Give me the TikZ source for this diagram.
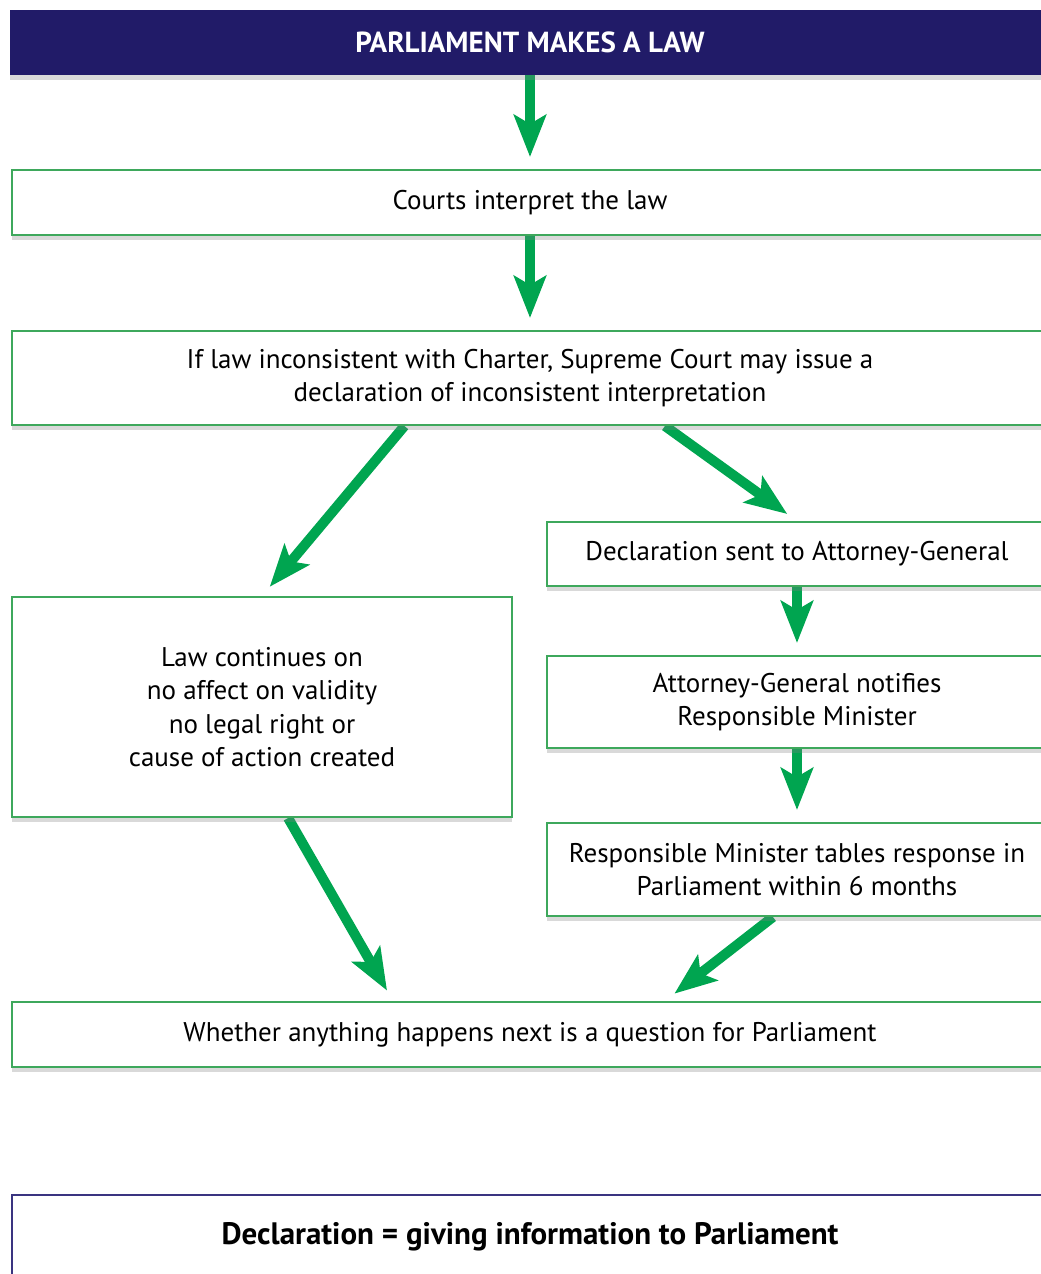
\documentclass[tikz,border=0pt]{standalone}
\usepackage{fontspec}
\setmainfont{PT Sans}
\usetikzlibrary{arrows.meta,calc,shadows,backgrounds}
\definecolor{navy}{RGB}{33,27,104}
\definecolor{notenavy}{RGB}{58,52,128}
\definecolor{flowgreen}{RGB}{0,165,80}
\definecolor{boxgreen}{RGB}{62,168,92}
\tikzset{
	chart/.style={x=1pt,y=-1pt,font=\fontsize{27}{33.5}\selectfont},
	shade below/.style={drop shadow={shadow xshift=0pt,shadow yshift=-5pt,opacity=0.3,fill=black!50}},
	titlebox/.style={rectangle,fill=navy,text=white,inner sep=0pt,
		minimum width=1040pt,minimum height=65pt,shade below,
		font=\fontsize{29}{30}\selectfont\bfseries},
	stepbox/.style={rectangle,draw=boxgreen,line width=2pt,fill=white,align=center,
		inner sep=0pt,shade below},
	wide/.style={minimum width=1036pt},
	half/.style={minimum width=500pt},
	notebox/.style={rectangle,draw=notenavy,line width=2.5pt,fill=white,inner sep=0pt,
		minimum width=1036pt,minimum height=84pt,font=\fontsize{31}{34}\selectfont\bfseries},
	flow/.style={-{Stealth[length=42pt,width=32pt,inset=9pt]},draw=flowgreen,
		line width=10pt,shorten >=12pt}
}

\begin{document}
\begin{tikzpicture}[chart]
	\useasboundingbox (0,0) rectangle (1041,1274);
	\clip (0,0) rectangle (1041,1274);
	
	\node[titlebox] (title) at (530,42) {PARLIAMENT MAKES A LAW};
	\node[stepbox,wide,minimum height=65pt] (courts) at (530,202.5) {Courts interpret the law};
	\node[stepbox,wide,minimum height=94pt] (charter) at (530,378)
		{If law inconsistent with Charter, Supreme Court may issue a\\declaration of inconsistent interpretation};
	\node[stepbox,half,minimum height=220pt] (effect) at (262,707)
		{Law continues on\\no affect on validity\\no legal right or\\cause of action created};
	\node[stepbox,half,minimum height=64pt] (sent) at (797,554) {Declaration sent to Attorney-General};
	\node[stepbox,half,minimum height=92pt] (notify) at (797,702)
		{Attorney-General notifies\\Responsible Minister};
	\node[stepbox,half,minimum height=93pt] (tables) at (797,869.5)
		{Responsible Minister tables response in\\Parliament within 6 months};
	\node[stepbox,wide,minimum height=65pt] (next) at (530,1034.5)
		{Whether anything happens next is a question for Parliament};
	\node[notebox] (meaning) at (530,1237) {Declaration = giving information to Parliament};
	
	\begin{scope}[on background layer]
		\path[flow] (title) edge (courts)
			(courts) edge (charter)
			(sent) edge (notify)
			(notify) edge (tables);
		\draw[flow] ($(charter.south west)!0.379!(charter.south east)$) -- (effect.north);
		\draw[flow] ($(charter.south west)!0.63!(charter.south east)$) -- (sent.north);
		\draw[flow] ($(effect.south west)!0.552!(effect.south east)$)
			-- ($(next.north west)!0.368!(next.north east)$);
		\draw[flow] ($(tables.south west)!0.452!(tables.south east)$)
			-- ($(next.north west)!0.63!(next.north east)$);
	\end{scope}
\end{tikzpicture}
\end{document}
